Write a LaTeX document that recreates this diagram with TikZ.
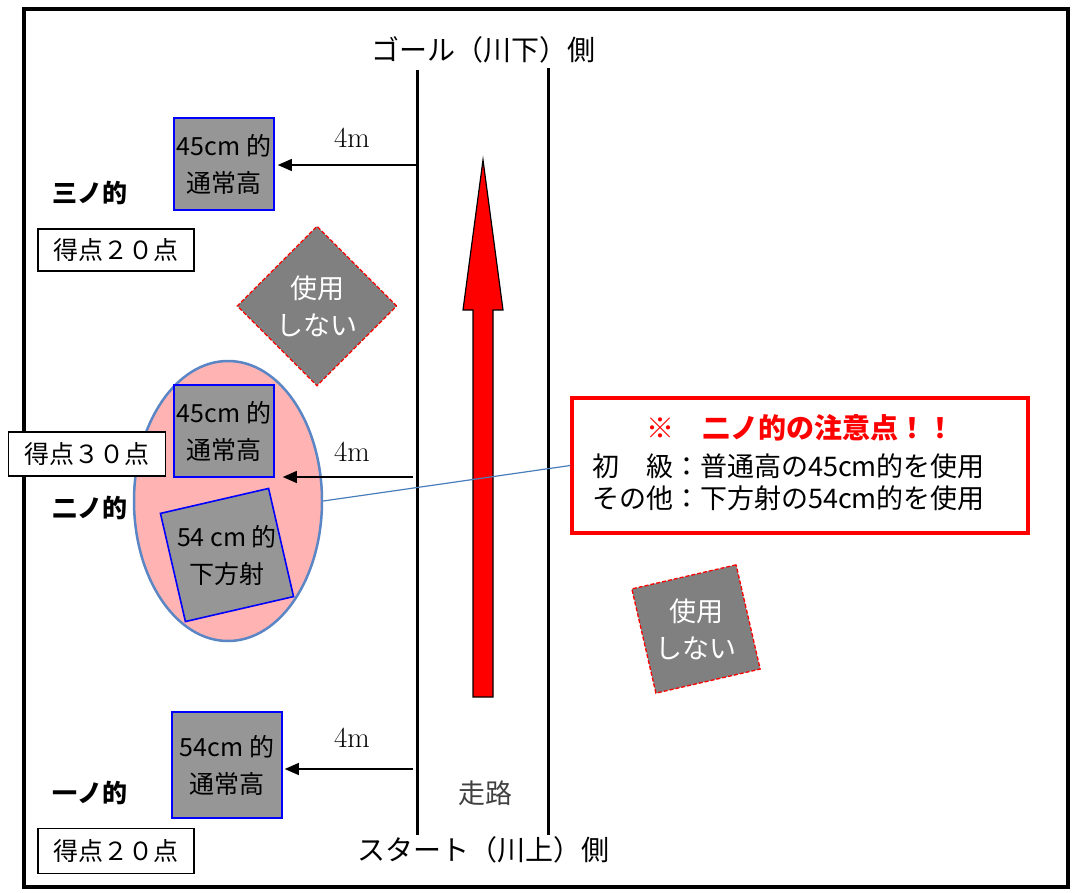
\documentclass[tikz,border=0pt]{standalone}
\usepackage{fontspec}
\setmainfont{Noto Sans CJK JP}
\newfontfamily\lmr{Latin Modern Roman}
\usetikzlibrary{shapes.geometric,arrows.meta}
\definecolor{tgtgray}{HTML}{969696}
\definecolor{offgray}{HTML}{808080}
\definecolor{pinkfill}{HTML}{FFB3B3}
\definecolor{ellblue}{HTML}{5B86C5}
\definecolor{linkblue}{HTML}{4A7EBB}
\newcommand{\fs}[2]{\fontsize{#1}{#2}\selectfont}
\begin{document}
\begin{tikzpicture}[x=1pt,y=-1pt,
  tgt/.style={draw=blue,line width=1.6pt,fill=tgtgray,inner sep=0pt,align=center,font=\fs{25}{37}},
  offsq/.style={draw=red,dashed,dash pattern=on 4pt off 2pt,line width=1.3pt,fill=offgray},
  offtxt/.style={text=white,align=center,font=\fs{27}{37},inner sep=0pt},
  score/.style={draw,line width=1.2pt,fill=white,minimum height=42pt,inner sep=0pt,font=\fs{25}{30}},
  rank/.style={font=\bfseries\fs{25}{30}},
  dist/.style={font=\lmr\fs{29}{32}},
  shot/.style={line width=1.3pt,-{Triangle[length=14pt,width=12pt]}},
  lane/.style={line width=3pt},
  endlabel/.style={font=\fs{28}{32}}
]
\useasboundingbox (0,0) rectangle (1073,893);
% frame
\draw[line width=4.5pt] (24,9) rectangle (1068,887);
% lane
\coordinate (l1t) at (417,70); \coordinate (l1b) at (417,835);
\coordinate (l2t) at (548,68); \coordinate (l2b) at (548,835);
\draw[lane] (l1t) -- (l1b);
\draw[lane] (l2t) -- (l2b);
\node[endlabel] (goal) at (483,50) {ゴール（川下）側};
\node[endlabel] (start) at (483,850) {スタート（川上）側};
\node[font=\fs{27}{30},text=black!75] (road) at (485,793) {走路};
% red arrow
\draw[fill=red,line width=1.2pt,line join=miter] (483,160) -- (503,310) -- (493,310) -- (493,697) -- (473,697) -- (473,310) -- (463,310) -- cycle;
% ellipse
\node[ellipse,draw=ellblue,line width=2.5pt,fill=pinkfill,minimum width=188pt,minimum height=280pt,inner sep=0pt] (ell) at (228,501) {};
% third target
\node[tgt,minimum width=100pt,minimum height=92pt] (t3) at (224,164) {45cm 的\\通常高};
\node[rank] (r3) at (90,193) {三ノ的};
\node[score,minimum width=156pt] (s3) at (116,250) {得点２０点};
\coordinate (a3) at (417,165);
\draw[shot] (a3) -- ([xshift=3pt]t3.east |- a3);
\node[dist] (d3) at (352,138) {4m};
% unused diamond
\node[diamond,offsq,minimum width=160pt,minimum height=160pt,inner sep=0pt] (u1) at (317,306) {};
\node[offtxt] at (u1.center) {使用\\しない};
% second target
\node[tgt,minimum width=100pt,minimum height=92pt] (t2a) at (224,431) {45cm 的\\通常高};
\node[tgt,rotate=13,minimum width=111pt,minimum height=111pt] (t2b) at (227,555) {};
\node[font=\fs{25}{37},align=center,inner sep=0pt] at (t2b.center) {54 cm 的\\下方射};
\node[score,minimum width=157pt,minimum height=44pt] (s2) at (87,454) {得点３０点};
\node[rank] (r2) at (90,508) {二ノ的};
\coordinate (a2) at (413,477);
\draw[shot] (a2) -- ([xshift=8pt]t2a.east |- a2);
\node[dist] (d2) at (352,452) {4m};
% first target
\node[tgt,minimum width=110pt,minimum height=106pt] (t1) at (227,765) {54cm 的\\通常高};
\node[rank] (r1) at (90,793) {一ノ的};
\node[score,minimum width=156pt,minimum height=45pt] (s1) at (116,851) {得点２０点};
\coordinate (a1) at (413,769);
\draw[shot] (a1) -- ([xshift=2pt]t1.east |- a1);
\node[dist] (d1) at (352,738) {4m};
% note
\node[draw=red,line width=3.5pt,fill=white,minimum width=456pt,minimum height=135pt,inner sep=0pt] (note) at (800,465.5) {};
\node[text=red,font=\bfseries\fs{28}{32}] (nt) at (800,428) {※　二ノ的の注意点！！};
\node[anchor=west,font=\fs{27}{32},inner sep=0pt] (n1) at (592,466) {初　級：普通高の45cm的を使用};
\node[anchor=west,font=\fs{27}{32},inner sep=0pt] (n2) at (592,498) {その他：下方射の54cm的を使用};
\draw[linkblue,line width=1.2pt] (ell.east) -- (note.west);
% unused right square
\node[offsq,rotate=13,minimum width=107pt,minimum height=107pt,inner sep=0pt] (u2) at (696,629) {};
\node[offtxt] at (u2.center) {使用\\しない};
\end{tikzpicture}
\end{document}
